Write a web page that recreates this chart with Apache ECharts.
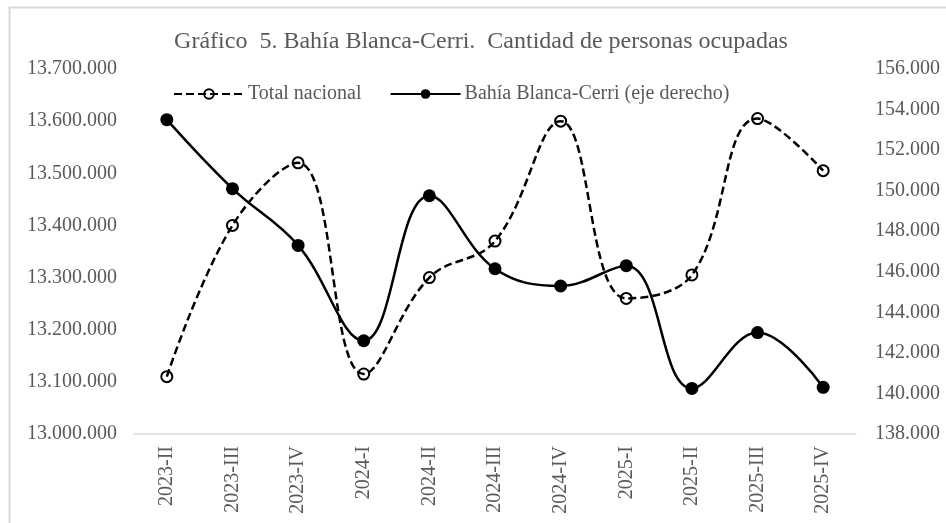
<!DOCTYPE html>
<html>
<head>
<meta charset="utf-8">
<script src="https://cdn.jsdelivr.net/npm/echarts@6/dist/echarts.min.js"></script>
<style>
  html, body { margin: 0; padding: 0; background: #fff; }
  #chart { width: 946px; height: 523px; }
</style>
</head>
<body>
<div id="chart"></div>
<script>
// Trimestres
const categories = ['2023-II', '2023-III', '2023-IV', '2024-I', '2024-II', '2024-III',
  '2024-IV', '2025-I', '2025-II', '2025-III', '2025-IV'];

// Total nacional (eje izquierdo)
const totalNacional = [13110000, 13400000, 13520000, 13115000, 13300000, 13370000,
  13600000, 13260000, 13305000, 13605000, 13505000];

// Bahía Blanca-Cerri (eje derecho)
const bahiaBlanca = [153500, 150100, 147300, 142600, 149750, 146150,
  145300, 146300, 140250, 143000, 140300];

const FONT = 'Liberation Serif';
const GREY = '#595959';

function miles(v) {
  return String(Math.round(v)).replace(/\B(?=(\d{3})+(?!\d))/g, '.');
}

const chart = echarts.init(document.getElementById('chart'));

chart.setOption({
  backgroundColor: '#fff',
  animation: false,
  textStyle: { fontFamily: FONT },
  graphic: [{
    type: 'rect',
    shape: { x: 9.5, y: 7.5, width: 1000, height: 1000 },
    style: { fill: 'none', stroke: '#d9d9d9', lineWidth: 2 },
    silent: true
  }],
  title: {
    text: 'Gráfico  5. Bahía Blanca-Cerri.  Cantidad de personas ocupadas',
    left: 481,
    textAlign: 'center',
    top: 30,
    padding: 0,
    textStyle: { fontFamily: FONT, fontSize: 24, fontWeight: 'normal', color: GREY }
  },
  legend: {
    left: 173,
    top: 84,
    padding: 0,
    itemWidth: 70,
    itemHeight: 12,
    itemGap: 28,
    textStyle: { fontFamily: FONT, fontSize: 20, color: GREY, padding: [0, 0, 0, -1] },
    data: ['Total nacional', 'Bahía Blanca-Cerri (eje derecho)']
  },
  grid: { left: 134, right: 90, top: 69, bottom: 89 },
  xAxis: {
    type: 'category',
    data: categories,
    boundaryGap: true,
    axisLine: { lineStyle: { color: '#d9d9d9', width: 1.5 } },
    axisTick: { show: false },
    axisLabel: { rotate: 90, margin: 12, color: GREY, fontFamily: FONT, fontSize: 20 }
  },
  yAxis: [{
    type: 'value',
    min: 13000000,
    max: 13700000,
    interval: 100000,
    axisLine: { show: false },
    axisTick: { show: false },
    splitLine: { show: false },
    axisLabel: { margin: 17, color: GREY, fontFamily: FONT, fontSize: 20, formatter: miles }
  }, {
    type: 'value',
    min: 138000,
    max: 156000,
    interval: 2000,
    axisLine: { show: false },
    axisTick: { show: false },
    splitLine: { show: false },
    axisLabel: { margin: 19, color: GREY, fontFamily: FONT, fontSize: 20, formatter: miles }
  }],
  series: [{
    name: 'Total nacional',
    type: 'line',
    yAxisIndex: 0,
    data: totalNacional,
    smooth: 0.4,
    symbol: 'circle',
    symbolSize: 11,
    lineStyle: { color: '#000', width: 2.5, type: [8, 4] },
    itemStyle: { color: 'rgba(255,255,255,0)', borderColor: '#000', borderWidth: 2 }
  }, {
    name: 'Bahía Blanca-Cerri (eje derecho)',
    type: 'line',
    yAxisIndex: 1,
    data: bahiaBlanca,
    smooth: 0.4,
    symbol: 'circle',
    symbolSize: 13,
    lineStyle: { color: '#000', width: 2.5 },
    itemStyle: { color: '#000' }
  }]
});
</script>
</body>
</html>
